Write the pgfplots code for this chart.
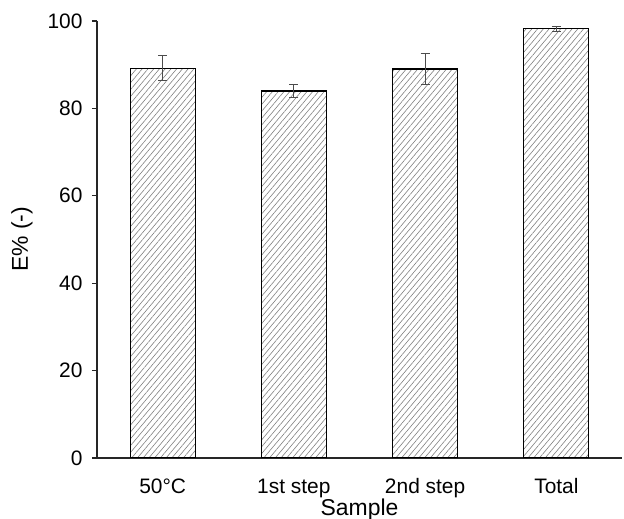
\documentclass[border=0pt]{standalone}
\usepackage{fontspec}
\setmainfont{Liberation Sans}
\usepackage{pgfplots}
\pgfplotsset{compat=1.18}
\usetikzlibrary{patterns.meta}
\begin{document}
\begin{tikzpicture}
\begin{axis}[
  name=ax, at={(0,0)}, anchor=south west,
  scale only axis, width=525bp, height=437bp,
  xmin=-0.5, xmax=3.5, ymin=0, ymax=100,
  axis x line*=bottom, axis y line*=left,
  axis line style={-, line width=1.2bp, black!85},
  ytick={0,20,...,100},
  xtick={0,1,2,3},
  xticklabels={50°C,1st step,2nd step,Total},
  xtick style={draw=none},
  ytick style={line width=1.2bp, black!85},
  tick align=outside, major tick length=5bp,
  /pgf/number format/assume math mode=true,
  tick label style={font=\fontsize{21}{25}\selectfont},
  xticklabel style={anchor=base, yshift=-30bp},
  yticklabel style={anchor=east, xshift=-6bp},
  xlabel={Sample},
  ylabel={E\% (-)},
  every axis x label/.style={at={([yshift=-57bp]axis description cs:0.5,0)}, anchor=base, font=\fontsize{23}{27}\selectfont},
  every axis y label/.style={at={([xshift=-75bp]axis description cs:0,0.5)}, rotate=90, anchor=center, font=\fontsize{23}{27}\selectfont},
  ybar, bar width=65bp,
]
\addplot[draw=black, line width=1.2bp,
  pattern={Lines[angle=50,distance=4.4bp,line width=0.6bp]}, pattern color=black!50,
  error bars/.cd, y dir=both, y explicit,
  error bar style={line width=1bp, draw=black!70},
  error mark options={rotate=90, mark size=4.5bp, line width=1bp, draw=black!70}]
  table[x=x, y=y, y error=e] {
x y e
0 89.2 2.9
1 84.0 1.4
2 89.0 3.6
3 98.2 0.6
};
\end{axis}
\pgfresetboundingbox
\path[use as bounding box] ([shift={(-97bp,-61bp)}]ax.south west) rectangle ([shift={(2bp,21bp)}]ax.north east);
\end{tikzpicture}
\end{document}
